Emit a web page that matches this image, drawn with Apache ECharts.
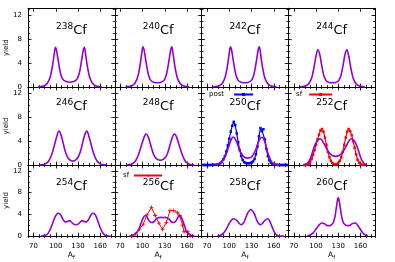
<!DOCTYPE html>
<html><head><meta charset="utf-8">
<script src="https://cdn.jsdelivr.net/npm/echarts@6/dist/echarts.min.js"></script>
<style>html,body{margin:0;padding:0;background:#fff}#c{width:395px;height:262px}</style>
</head><body><div id="c"></div>
<script>
// ---- data ----
const nuclei = ['238','240','242','244','246','248','250','252','254','256','258','260'];
const xTicks = [70, 100, 130, 160];
const yTicks = [0, 4, 8, 12];

const A238 = [76, 82, 86, 89, 92, 94, 96, 98, 99.5, 101, 103, 105, 107, 110, 114, 119, 124, 128, 131, 133, 135, 137, 138.5, 140, 142, 144, 146, 149, 152, 156, 162];
const Y238 = [0, 0.1, 0.3, 0.7, 1.5, 2.5, 3.9, 5.6, 6.6, 6.1, 4.6, 3.1, 2.0, 1.2, 0.9, 0.8, 0.9, 1.2, 2.0, 3.1, 4.6, 6.1, 6.6, 5.6, 3.9, 2.5, 1.5, 0.7, 0.3, 0.1, 0];
const A240 = [77, 83, 87, 90, 93, 95, 97, 99, 100.5, 102, 104, 106, 108, 111, 115, 120, 125, 129, 132, 134, 136, 138, 139.5, 141, 143, 145, 147, 150, 153, 157, 163];
const Y240 = [0, 0.1, 0.3, 0.7, 1.5, 2.5, 3.9, 5.7, 6.7, 6.2, 4.7, 3.2, 2.0, 1.1, 0.8, 0.7, 0.8, 1.1, 2.0, 3.2, 4.7, 6.2, 6.7, 5.7, 3.9, 2.5, 1.5, 0.7, 0.3, 0.1, 0];
const A242 = [78, 84, 88, 91, 94, 96, 98, 100, 101.5, 103, 105, 107, 109, 112, 116, 121, 126, 130, 133, 135, 137, 139, 140.5, 142, 144, 146, 148, 151, 154, 158, 164];
const Y242 = [0, 0.1, 0.3, 0.7, 1.5, 2.5, 3.9, 5.7, 6.7, 6.2, 4.7, 3.2, 2.0, 1.1, 0.8, 0.7, 0.8, 1.1, 2.0, 3.2, 4.7, 6.2, 6.7, 5.7, 3.9, 2.5, 1.5, 0.7, 0.3, 0.1, 0];
const A244 = [78, 84, 88, 91, 94, 96, 98, 100, 102.5, 105, 107, 109, 111, 114, 118, 122, 126, 130, 133, 135, 137, 139, 141.5, 144, 146, 148, 150, 153, 156, 160, 166];
const Y244 = [0, 0.1, 0.3, 0.7, 1.5, 2.5, 3.8, 5.2, 6.2, 5.4, 4.0, 2.7, 1.7, 1.0, 0.75, 0.7, 0.75, 1.0, 1.7, 2.7, 4.0, 5.4, 6.2, 5.2, 3.8, 2.5, 1.5, 0.7, 0.3, 0.1, 0];
const A246 = [78, 84, 88, 91, 94, 97, 99.5, 102, 104, 106, 108.5, 111, 113.5, 116, 119, 123, 127, 130, 132.5, 135, 137.5, 140, 142, 144, 146.5, 149, 152, 155, 158, 162, 168];
const Y246 = [0, 0.1, 0.35, 0.8, 1.6, 2.8, 4.0, 5.1, 5.7, 5.4, 4.4, 3.1, 2.0, 1.3, 0.85, 0.65, 0.85, 1.3, 2.0, 3.1, 4.4, 5.4, 5.7, 5.1, 4.0, 2.8, 1.6, 0.8, 0.35, 0.1, 0];
const A248 = [78, 84, 88, 91, 94, 97, 100, 102.5, 104.5, 107, 109.5, 112, 114.5, 117, 120, 124, 128, 131, 133.5, 136, 138.5, 141, 143.5, 145.5, 148, 151, 154, 157, 160, 164, 170];
const Y248 = [0, 0.1, 0.35, 0.8, 1.6, 2.7, 3.9, 4.8, 5.2, 4.9, 4.0, 2.9, 1.9, 1.3, 0.95, 0.8, 0.95, 1.3, 1.9, 2.9, 4.0, 4.9, 5.2, 4.8, 3.9, 2.7, 1.6, 0.8, 0.35, 0.1, 0];
const A250 = [80, 86, 90, 94, 98, 101, 103.5, 105.5, 108, 111, 114, 117, 120, 125, 130, 133, 136, 139, 141.5, 144, 146.5, 149, 152, 155, 158, 162, 168];
const Y250 = [0, 0.15, 0.5, 1.3, 2.6, 3.8, 4.5, 4.7, 4.4, 3.5, 2.5, 1.8, 1.35, 1.15, 1.35, 1.9, 2.7, 3.8, 4.4, 4.65, 4.4, 3.4, 2.0, 1.0, 0.4, 0.1, 0];
const A252 = [84, 88, 92, 95, 98, 101, 103.5, 105.5, 108, 111, 114, 118, 122, 126.5, 131, 135, 139, 142, 145, 147.5, 149.5, 152, 155, 158, 161, 165, 169];
const Y252 = [0, 0.25, 1.0, 2.1, 3.2, 3.95, 4.3, 4.4, 4.15, 3.5, 2.8, 2.0, 1.6, 1.45, 1.6, 2.0, 2.8, 3.5, 4.15, 4.4, 4.3, 3.95, 3.2, 2.1, 1.0, 0.25, 0];
const A254 = [80, 85, 89, 92, 95, 98, 101, 104, 107, 110, 113, 116, 118.5, 121, 124, 127, 130, 133, 135.5, 138, 141, 144, 147, 150, 153, 156, 159, 162, 165, 169, 174];
const Y254 = [0, 0.1, 0.4, 1.1, 2.1, 3.2, 4.0, 4.2, 3.8, 3.0, 2.6, 2.7, 2.85, 2.6, 2.2, 2.1, 2.2, 2.6, 2.85, 2.7, 2.6, 3.0, 3.8, 4.2, 4.0, 3.0, 1.9, 0.9, 0.3, 0.05, 0];
const A256 = [82, 86, 90, 94, 97, 100, 103.5, 106, 109, 112, 115, 118, 121, 124, 127, 130, 133, 136, 139, 142, 145, 148, 150.5, 154, 157, 160, 164, 170];
const Y256 = [0, 0.1, 0.4, 1.0, 2.0, 3.1, 3.8, 3.5, 2.8, 2.5, 2.6, 3.1, 3.4, 3.45, 3.4, 3.45, 3.4, 3.1, 2.6, 2.5, 2.8, 3.5, 3.8, 2.9, 1.7, 0.7, 0.2, 0];
const A258 = [84, 88, 92, 96, 99, 102, 106, 110, 113, 116, 119, 122, 125, 129, 133, 136, 139, 142, 145, 148, 152, 155, 158, 161, 164, 168, 174];
const Y258 = [0, 0.15, 0.5, 1.3, 2.1, 2.8, 3.2, 2.9, 2.4, 2.1, 2.4, 3.3, 4.3, 4.9, 4.3, 3.3, 2.4, 2.1, 2.4, 2.9, 3.2, 2.6, 1.6, 0.7, 0.2, 0, 0];
const A260 = [88, 92, 96, 100, 104, 107.5, 111, 114, 117.5, 121, 123.5, 125.5, 127.5, 129, 130, 131, 132.5, 134.5, 136.5, 139, 142.5, 146, 149, 153, 157, 161, 165, 170];
const Y260 = [0, 0.2, 0.6, 1.3, 2.0, 2.4, 2.3, 2.0, 1.9, 2.1, 2.6, 3.6, 5.4, 6.7, 7.1, 6.7, 5.4, 3.6, 2.6, 2.1, 1.9, 2.0, 2.3, 2.4, 1.8, 1.0, 0.3, 0];

// post-neutron data, 250Cf
const A250post = [64, 66, 68, 70, 72, 74, 76, 78, 80, 82, 84, 86, 88, 90, 92, 94, 96, 98, 100, 102, 104, 106, 108, 110, 112, 114, 116, 118, 120, 122, 124, 126, 128, 130, 132, 134, 136, 138, 140, 142, 144, 146, 148, 150, 152, 154, 156, 158, 160, 162, 164, 166, 168, 170, 172, 174, 176, 178];
const Y250post = [0, 0, 0, 0, 0, 0, 0, 0.01, 0.02, 0.04, 0.08, 0.15, 0.3, 0.55, 0.95, 1.5, 2.3, 3.3, 4.4, 5.6, 6.6, 7.25, 6.7, 5.3, 3.8, 2.5, 1.5, 0.85, 0.5, 0.35, 0.3, 0.3, 0.32, 0.4, 0.6, 1.0, 1.8, 3.1, 4.8, 6.2, 5.7, 6.0, 4.3, 2.7, 1.5, 0.8, 0.4, 0.2, 0.1, 0.05, 0.02, 0.01, 0, 0, 0, 0, 0, 0];
// spontaneous fission data, 252Cf
const A252sf = [84, 86, 88, 90, 92, 94, 96, 98, 100, 102, 104, 106, 108, 110, 112, 114, 116, 118, 120, 122, 124, 126, 128, 130, 132, 134, 136, 138, 140, 142, 144, 146, 148, 150, 152, 154, 156, 158, 160, 162, 164];
const Y252sf = [0, 0.02, 0.06, 0.2, 0.5, 1.0, 1.7, 2.5, 3.4, 4.3, 5.1, 5.8, 6.05, 5.6, 4.6, 3.4, 2.2, 1.3, 0.7, 0.35, 0.15, 0.1, 0.15, 0.35, 0.7, 1.3, 2.2, 3.4, 4.6, 5.6, 6.05, 5.7, 5.0, 4.0, 2.9, 1.8, 0.9, 0.4, 0.15, 0.05, 0];
// spontaneous fission data, 256Cf
const A256sf = [86, 91, 96, 101, 106, 112, 117, 122, 127, 132, 137, 142, 147, 150, 154, 156, 161, 165];
const Y256sf = [0.05, 0.4, 1.3, 2.2, 3.9, 5.3, 3.8, 2.4, 1.2, 2.5, 4.7, 4.7, 4.3, 3.8, 2.0, 0.8, 0.8, 0.1];

// ---- layout ----
const FONT = 'DejaVu Sans';
const XMIN = 62.5, XMAX = 179.5, YMAX = 13.1;
const colLeft = [28, 114.75, 201.5, 288.25], colW = 86.75;
const rowTop = [8.3, 87, 165], rowH = [78.7, 78, 73.5];
const PURPLE = '#9400d3';
const curves = [[A238,Y238],[A240,Y240],[A242,Y242],[A244,Y244],[A246,Y246],[A248,Y248],[A250,Y250],[A252,Y252],[A254,Y254],[A256,Y256],[A258,Y258],[A260,Y260]];
const pair = (A, Y) => A.map((a, k) => [a, Y[k]]);
const plusPath = 'path://M4,0H6V4H10V6H6V10H4V6H0V4H4Z';

const grid = [], xAxis = [], yAxis = [], series = [], graphic = [];
const tickLine = {color: '#000', width: 0.8};
nuclei.forEach((n, i) => {
  const r = Math.floor(i / 4), c = i % 4;
  grid.push({left: colLeft[c], top: rowTop[r], width: colW, height: rowH[r], containLabel: false});
  const base = {gridIndex: i, type: 'value', min: XMIN, max: XMAX, splitLine: {show: false}};
  xAxis.push(Object.assign({}, base, {
    position: 'bottom',
    axisLine: {show: true, onZero: false, lineStyle: {color: '#000', width: 1}},
    axisTick: {show: true, inside: true, length: 3.5, customValues: xTicks, lineStyle: tickLine},
    axisLabel: {show: r === 2, customValues: xTicks, fontSize: 7, color: '#000', margin: 7, fontFamily: FONT},
    name: r === 2 ? '{a|A}{f|f}' : '', nameLocation: 'middle', nameGap: 14,
    nameTextStyle: {fontFamily: FONT, color: '#000', rich: {
      a: {fontSize: 7.5, lineHeight: 10, verticalAlign: 'top', fontFamily: FONT, color: '#000'},
      f: {fontSize: 5.5, lineHeight: 7, verticalAlign: 'bottom', fontFamily: FONT, color: '#000'}}}
  }));
  xAxis.push(Object.assign({}, base, {
    position: 'bottom', interval: 7.5, axisLine: {show: false},
    axisTick: {show: true, inside: true, length: 2, lineStyle: tickLine}, axisLabel: {show: false}
  }));
  xAxis.push(Object.assign({}, base, {
    position: 'top',
    axisLine: {show: true, onZero: false, lineStyle: {color: '#000', width: 1}},
    axisTick: {show: true, inside: true, length: 3.5, customValues: xTicks, lineStyle: tickLine},
    axisLabel: {show: false}
  }));
  xAxis.push(Object.assign({}, base, {
    position: 'top', interval: 7.5, axisLine: {show: false},
    axisTick: {show: true, inside: true, length: 2, lineStyle: tickLine}, axisLabel: {show: false}
  }));
  const ybase = {gridIndex: i, type: 'value', min: 0, max: YMAX, splitLine: {show: false}};
  yAxis.push(Object.assign({}, ybase, {
    position: 'left',
    axisLine: {show: true, onZero: false, lineStyle: {color: '#000', width: 1}},
    axisTick: {show: true, inside: true, length: 3.5, customValues: yTicks, lineStyle: tickLine},
    axisLabel: {show: c === 0, customValues: yTicks, fontSize: 7, color: '#000', margin: 6, fontFamily: FONT},
    name: c === 0 ? 'yield' : '', nameLocation: 'middle', nameGap: 16, nameRotate: 90,
    nameTextStyle: {fontSize: 7, color: '#000', fontFamily: FONT}
  }));
  yAxis.push(Object.assign({}, ybase, {
    position: 'left', interval: 1, axisLine: {show: false},
    axisTick: {show: true, inside: true, length: 2, lineStyle: tickLine}, axisLabel: {show: false}
  }));
  yAxis.push(Object.assign({}, ybase, {
    position: 'right',
    axisLine: {show: true, onZero: false, lineStyle: {color: '#000', width: 1}},
    axisTick: {show: true, inside: true, length: 3.5, customValues: yTicks, lineStyle: tickLine},
    axisLabel: {show: false}
  }));
  yAxis.push(Object.assign({}, ybase, {
    position: 'right', interval: 1, axisLine: {show: false},
    axisTick: {show: true, inside: true, length: 2, lineStyle: tickLine}, axisLabel: {show: false}
  }));

  // experimental overlays
  if (n === '250') {
    series.push({name: 'post', type: 'line', xAxisIndex: 4 * i, yAxisIndex: 4 * i, data: pair(A250post, Y250post),
      symbol: 'rect', symbolSize: 2.5, showSymbol: true, itemStyle: {color: '#0000ff'},
      lineStyle: {color: '#0000ff', width: 1.2}, z: 2, silent: true});
  }
  if (n === '252') {
    series.push({name: 'sf', type: 'line', xAxisIndex: 4 * i, yAxisIndex: 4 * i, data: pair(A252sf, Y252sf),
      symbol: 'rect', symbolSize: 2.5, showSymbol: true, itemStyle: {color: '#ff0000'},
      lineStyle: {color: '#ff0000', width: 1.2}, z: 2, silent: true});
  }
  if (n === '256') {
    series.push({name: 'sf256', type: 'line', xAxisIndex: 4 * i, yAxisIndex: 4 * i, data: pair(A256sf, Y256sf),
      symbol: plusPath, symbolSize: 4, showSymbol: true, itemStyle: {color: '#ff0000'},
      lineStyle: {color: '#ff0000', width: 1}, z: 2, silent: true});
  }
  const [A, Y] = curves[i];
  series.push({name: 'calc' + n, type: 'line', xAxisIndex: 4 * i, yAxisIndex: 4 * i, data: pair(A, Y),
    smooth: 0.35, showSymbol: false, symbol: 'none', lineStyle: {color: PURPLE, width: 1.6}, z: 3, silent: true});

  graphic.push({type: 'text', x: colLeft[c] + colW / 2, y: rowTop[r] + [14, 11, 13][r],
    style: {text: '{s|' + n + '}{m|Cf}', align: 'center', verticalAlign: 'top', fill: '#000',
      rich: {s: {fontSize: 9, lineHeight: 10, verticalAlign: 'top', fontFamily: FONT, fill: '#000'},
             m: {fontSize: 13, lineHeight: 15, verticalAlign: 'bottom', fontFamily: FONT, fill: '#000'}}},
    silent: true});
});

const legendCommon = {orient: 'horizontal', align: 'right', padding: 0, itemGap: 0, itemHeight: 4,
  selectedMode: false};
const legTxt = pad => ({fontSize: 7, color: '#000', fontFamily: FONT, padding: [0, pad, 0, 0]});
const legend = [
  Object.assign({}, legendCommon, {data: ['post'], left: 209, top: 91, itemWidth: 19, textStyle: legTxt(5)}),
  Object.assign({}, legendCommon, {data: ['sf'], left: 296, top: 91, itemWidth: 23, textStyle: legTxt(2)}),
  Object.assign({}, legendCommon, {data: ['sf256'], left: 123, top: 172, itemWidth: 28, textStyle: legTxt(0), formatter: 'sf'})
];

const chart = echarts.init(document.getElementById('c'), null, {renderer: 'canvas'});
chart.setOption({animation: false, backgroundColor: '#fff', grid, xAxis, yAxis, series, legend, graphic});
</script></body></html>
